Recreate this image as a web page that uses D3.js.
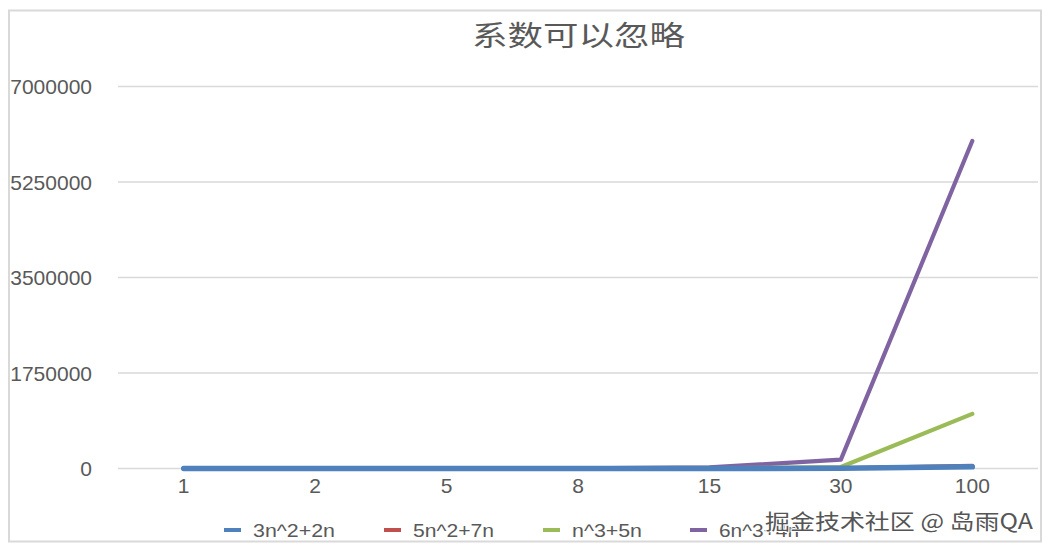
<!DOCTYPE html>
<html>
<head>
<meta charset="utf-8">
<script src="https://cdn.jsdelivr.net/npm/d3@7"></script>
<style>
  html, body { margin: 0; padding: 0; background: #fff; }
  svg { display: block; }
</style>
</head>
<body>
<svg id="chart" width="1054" height="554"></svg>
<script>
const title = "系数可以忽略";
const categories = ["1", "2", "5", "8", "15", "30", "100"];
const seriesNames = ["3n^2+2n", "5n^2+7n", "n^3+5n", "6n^3+4n"];
const seriesColors = ["#4F81BD", "#C0504D", "#9BBB59", "#8064A2"];
const s1 = [5, 16, 85, 208, 705, 2760, 30200];
const s2 = [12, 34, 160, 376, 1230, 4710, 50700];
const s3 = [6, 18, 150, 552, 3450, 27150, 1000500];
const s4 = [10, 56, 770, 3104, 20310, 162120, 6000400];
const yTicks = [0, 1750000, 3500000, 5250000, 7000000];
const watermark = "掘金技术社区 @ 岛雨QA";

const seriesValues = [s1, s2, s3, s4];
const svg = d3.select("#chart");
const plot = { left: 118, right: 1038, top: 86.5, bottom: 468.5 };
const font = "'Liberation Sans', Arial, sans-serif";
const textColor = "#595959";

// outer frame
svg.append("rect").attr("x", 9).attr("y", 10.5).attr("width", 1032).attr("height", 531)
  .attr("fill", "#fff").attr("stroke", "#D9D9D9").attr("stroke-width", 2);

const x = d3.scaleBand().domain(categories).range([plot.left, plot.right]);
const y = d3.scaleLinear().domain([0, 7000000]).range([plot.bottom, plot.top]);

// y axis labels
const yAxis = d3.axisLeft(y).tickValues(yTicks).tickSize(0).tickPadding(0).tickFormat(d3.format("d"));
const ya = svg.append("g").attr("transform", `translate(92,0)`).call(yAxis);
ya.select(".domain").remove();
ya.selectAll("text").attr("font-family", font).attr("font-size", 21).attr("fill", textColor).attr("dy", "0.35em");

// gridlines
svg.append("g").selectAll("line").data(yTicks).join("line")
  .attr("x1", plot.left).attr("x2", plot.right)
  .attr("y1", d => y(d)).attr("y2", d => y(d))
  .attr("stroke", "#D9D9D9").attr("stroke-width", 1.5);

// x axis labels
const xAxis = d3.axisBottom(x).tickSize(0).tickPadding(0);
const xa = svg.append("g").attr("transform", `translate(0,478)`).call(xAxis);
xa.select(".domain").remove();
xa.selectAll("text").attr("font-family", font).attr("font-size", 21).attr("fill", textColor).attr("dy", "0.72em");

// lines
const line = d3.line()
  .x((d, i) => x(categories[i]) + x.bandwidth() / 2)
  .y(d => y(d));
const order = [3, 2, 1, 0];
svg.append("g").selectAll("path").data(order).join("path")
  .attr("d", i => line(seriesValues[i]))
  .attr("fill", "none")
  .attr("stroke", i => seriesColors[i])
  .attr("stroke-width", i => i === 0 ? 5.5 : 4.2)
  .attr("stroke-linejoin", "round")
  .attr("stroke-linecap", "round");

// title
svg.append("text").attr("x", 472).attr("y", 46)
  .attr("font-family", "'Noto Sans CJK SC', sans-serif")
  .attr("font-size", 28).attr("fill", textColor)
  .attr("textLength", 213).attr("lengthAdjust", "spacingAndGlyphs")
  .text(title);

// legend
const legendX = [224, 384, 543, 690];
const legendW = [82, 81, 70, 80];
const lg = svg.append("g");
seriesNames.forEach((name, i) => {
  lg.append("line").attr("x1", legendX[i]).attr("x2", legendX[i] + 17)
    .attr("y1", 530).attr("y2", 530)
    .attr("stroke", seriesColors[i]).attr("stroke-width", 4);
  lg.append("text").attr("x", legendX[i] + 29).attr("y", 530).attr("dy", "0.36em")
    .attr("font-family", font).attr("font-size", 19).attr("fill", textColor)
    .attr("textLength", legendW[i]).attr("lengthAdjust", "spacingAndGlyphs")
    .text(name);
});

// watermark
svg.append("text").attr("x", 765).attr("y", 529)
  .attr("font-family", "'Noto Sans CJK SC', sans-serif")
  .attr("font-size", 21).attr("fill", "#555")
  .attr("stroke", "#fff").attr("stroke-width", 2).attr("paint-order", "stroke")
  .attr("textLength", 268).attr("lengthAdjust", "spacingAndGlyphs")
  .text(watermark);
</script>
</body>
</html>
